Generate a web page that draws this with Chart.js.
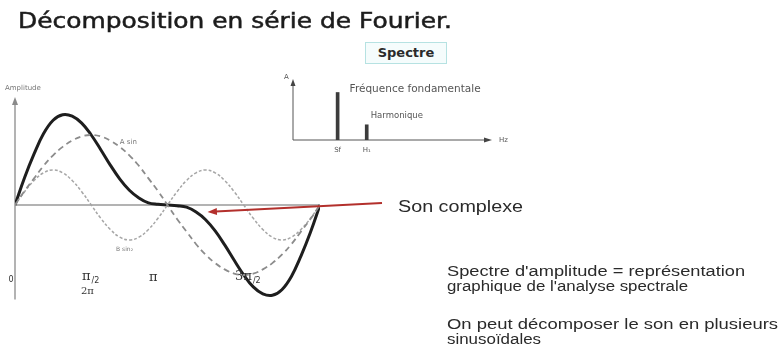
<!DOCTYPE html>
<html lang="fr">
<head>
<meta charset="utf-8">
<title>Décomposition en série de Fourier</title>
<script src="https://cdn.jsdelivr.net/npm/chart.js@4/dist/chart.umd.min.js"></script>
<style>
  html, body { margin: 0; padding: 0; background: #fff; }
  #page { position: relative; width: 780px; height: 358px; overflow: hidden; background: #fff; }
  canvas { position: absolute; left: 0; top: 0; }
  .txt { position: absolute; white-space: nowrap; transform-origin: 0 50%; }
  #titre { left: 18px; top: 9px; font: 21px "DejaVu Sans", sans-serif; color: #1c1c1c;
    -webkit-text-stroke: 0.5px #1c1c1c; }
  #spectreBox { position: absolute; left: 365px; top: 42px; width: 82px; height: 22px;
    border: 1px solid #b6e2e2; background: #f5fcfc; box-sizing: border-box;
    font: bold 13px "DejaVu Sans", sans-serif; color: #2a2a2a; text-align: center; line-height: 20px; }
  .note { font: 14px "Liberation Sans", Arial, sans-serif; color: #2a2a2a; }
</style>
</head>
<body>
<div id="page">
  <canvas id="fourierChart" width="780" height="358"></canvas>
  <canvas id="spectreChart" width="780" height="358"></canvas>
  <div id="titre" class="txt" data-w="434">Décomposition en série de Fourier.</div>
  <div id="spectreBox">Spectre</div>
  <div class="txt note" style="left:398px; top:198px; font-size:16px;" data-w="125">Son complexe</div>
  <div class="txt note" style="left:447px; top:263px;" data-w="298">Spectre d'amplitude = représentation</div>
  <div class="txt note" style="left:447px; top:278px;" data-w="241">graphique de l'analyse spectrale</div>
  <div class="txt note" style="left:447px; top:316px;" data-w="331">On peut décomposer le son en plusieurs</div>
  <div class="txt note" style="left:447px; top:331px;" data-w="94">sinusoïdales</div>
</div>
<script>
// Phase in steps of pi/16 over one period
const phase = [0, 1, 2, 3, 4, 5, 6, 7, 8, 9, 10, 11, 12, 13, 14, 15, 16,
  17, 18, 19, 20, 21, 22, 23, 24, 25, 26, 27, 28, 29, 30, 31, 32];

// Fundamental (dashed)
const fondamentale = [0, 0.2, 0.38, 0.56, 0.71, 0.83, 0.92, 0.98, 1, 0.98, 0.92, 0.83, 0.71, 0.56, 0.38, 0.2, 0,
  -0.2, -0.38, -0.56, -0.71, -0.83, -0.92, -0.98, -1, -0.98, -0.92, -0.83, -0.71, -0.56, -0.38, -0.2, 0];

// Second harmonic (thin grey)
const harmonique = [0, 0.19, 0.35, 0.46, 0.5, 0.46, 0.35, 0.19, 0, -0.19, -0.35, -0.46, -0.5, -0.46, -0.35, -0.19, 0,
  0.19, 0.35, 0.46, 0.5, 0.46, 0.35, 0.19, 0, -0.19, -0.35, -0.46, -0.5, -0.46, -0.35, -0.19, 0];

// Complex sound = sum of both (thick black)
const sonComplexe = [0, 0.39, 0.73, 1.02, 1.21, 1.29, 1.27, 1.17, 1, 0.79, 0.57, 0.37, 0.21, 0.1, 0.03, 0.01, 0,
  -0.01, -0.03, -0.1, -0.21, -0.37, -0.57, -0.79, -1, -1.17, -1.27, -1.29, -1.21, -1.02, -0.73, -0.39, 0];

// Phase axis labels
const phaseTickValues = [0, 8, 14.5, 24.5];
const phaseTickLabels = ["0", "π/2", "π", "3π/2"];

// Spectrum inset
const spectreLabels = ["Sf", "H₁"];
const spectreFreq = [23, 38];
const spectreAmp = [1, 0.32];

function toPoints(xs, ys) {
  return xs.map((x, i) => ({ x: x, y: ys[i] }));
}

// Axes, labels and the red arrow for the main plot
const fourierDecor = {
  id: "fourierDecor",
  beforeDatasetsDraw(chart) {
    const { ctx, scales: { x, y } } = chart;
    const x0 = x.getPixelForValue(0);
    const yBase = y.getPixelForValue(0);
    ctx.save();
    ctx.strokeStyle = "#9a9a9a";
    ctx.lineWidth = 1.5;
    // baseline
    ctx.beginPath();
    ctx.moveTo(x0, yBase);
    ctx.lineTo(x.getPixelForValue(32), yBase);
    ctx.stroke();
    // amplitude axis with arrow
    ctx.beginPath();
    ctx.moveTo(x0, y.getPixelForValue(-1.35));
    ctx.lineTo(x0, y.getPixelForValue(1.5));
    ctx.stroke();
    ctx.fillStyle = "#8a8a8a";
    ctx.beginPath();
    const top = y.getPixelForValue(1.5);
    ctx.moveTo(x0, top - 3);
    ctx.lineTo(x0 - 3, top + 5);
    ctx.lineTo(x0 + 3, top + 5);
    ctx.closePath();
    ctx.fill();
    ctx.restore();
  },
  afterDatasetsDraw(chart) {
    const { ctx, scales: { x, y } } = chart;
    ctx.save();
    ctx.fillStyle = "#777";
    ctx.textBaseline = "middle";
    ctx.font = "7px 'DejaVu Sans', sans-serif";
    ctx.fillText("Amplitude", 5, 88);
    ctx.fillText("A sin", x.getPixelForValue(11), y.getPixelForValue(0.9));
    ctx.font = "6px 'DejaVu Sans', sans-serif";
    ctx.fillText("B sin₂", x.getPixelForValue(10.6), y.getPixelForValue(-0.64));

    // phase ticks
    ctx.fillStyle = "#333";
    ctx.textAlign = "center";
    const ty = y.getPixelForValue(-1.02);
    phaseTickValues.forEach((v, i) => {
      const px = x.getPixelForValue(v);
      const lab = phaseTickLabels[i];
      if (lab === "0") {
        ctx.font = "8px 'DejaVu Sans', sans-serif";
        ctx.fillText(lab, px - 4, ty + 4);
      } else if (lab.indexOf("/") > 0) {
        const [num, den] = lab.split("/");
        ctx.font = "13px 'DejaVu Serif', serif";
        const w = ctx.measureText(num).width;
        ctx.textAlign = "left";
        ctx.fillText(num, px - w / 2 - 5, ty);
        ctx.font = "8px 'DejaVu Sans', sans-serif";
        ctx.fillText("/" + den, px + w / 2 - 4, ty + 5);
        ctx.textAlign = "center";
      } else {
        ctx.font = "13px 'DejaVu Serif', serif";
        ctx.fillText(lab, px, ty + 1);
      }
    });
    ctx.font = "10px 'DejaVu Serif', serif";
    ctx.fillText("2π", x.getPixelForValue(7.6), ty + 15);

    // arrow pointing at the complex sound
    const tipX = x.getPixelForValue(20.2);
    const tipY = y.getPixelForValue(-0.1);
    const tailX = 382, tailY = 203;
    ctx.strokeStyle = "#b3302c";
    ctx.fillStyle = "#b3302c";
    ctx.lineWidth = 2;
    ctx.beginPath();
    ctx.moveTo(tailX, tailY);
    ctx.lineTo(tipX + 8, tipY - 0.4);
    ctx.stroke();
    const ang = Math.atan2(tipY - tailY, tipX - tailX);
    ctx.beginPath();
    ctx.moveTo(tipX, tipY);
    ctx.lineTo(tipX - 10 * Math.cos(ang - 0.35), tipY - 10 * Math.sin(ang - 0.35));
    ctx.lineTo(tipX - 10 * Math.cos(ang + 0.35), tipY - 10 * Math.sin(ang + 0.35));
    ctx.closePath();
    ctx.fill();
    ctx.restore();
  }
};

new Chart(document.getElementById("fourierChart"), {
  type: "line",
  data: {
    datasets: [
      {
        label: "Fondamentale",
        data: toPoints(phase, fondamentale),
        borderColor: "#8c8c8c",
        borderWidth: 1.8,
        borderDash: [6, 4],
        pointRadius: 0,
        tension: 0.4
      },
      {
        label: "Harmonique",
        data: toPoints(phase, harmonique),
        borderColor: "#a6a6a6",
        borderWidth: 1.5,
        borderDash: [3, 2],
        pointRadius: 0,
        tension: 0.4
      },
      {
        label: "Son complexe",
        data: toPoints(phase, sonComplexe),
        borderColor: "#1e1e1e",
        borderWidth: 3,
        pointRadius: 0,
        tension: 0.4
      }
    ]
  },
  options: {
    responsive: false,
    animation: false,
    devicePixelRatio: 1,
    layout: { padding: { left: 15, right: 460, top: 100, bottom: 55 } },
    scales: {
      x: { type: "linear", min: 0, max: 32, display: false },
      y: { type: "linear", min: -1.4, max: 1.5, display: false }
    },
    plugins: { legend: { display: false }, tooltip: { enabled: false } }
  },
  plugins: [fourierDecor]
});

// Axes and captions of the spectrum inset
const spectreDecor = {
  id: "spectreDecor",
  beforeDatasetsDraw(chart) {
    const { ctx, scales: { x, y } } = chart;
    const x0 = x.getPixelForValue(0), y0 = y.getPixelForValue(0);
    const yTop = y.getPixelForValue(1.2), xEnd = x.getPixelForValue(100);
    ctx.save();
    ctx.strokeStyle = "#555";
    ctx.fillStyle = "#444";
    ctx.lineWidth = 1;
    ctx.beginPath();
    ctx.moveTo(x0, y0);
    ctx.lineTo(x0, yTop);
    ctx.moveTo(x0, y0);
    ctx.lineTo(xEnd, y0);
    ctx.stroke();
    ctx.beginPath();
    ctx.moveTo(x0, yTop - 4);
    ctx.lineTo(x0 - 2.5, yTop + 3);
    ctx.lineTo(x0 + 2.5, yTop + 3);
    ctx.closePath();
    ctx.fill();
    ctx.beginPath();
    ctx.moveTo(xEnd + 5, y0);
    ctx.lineTo(xEnd - 3, y0 - 2.5);
    ctx.lineTo(xEnd - 3, y0 + 2.5);
    ctx.closePath();
    ctx.fill();
    ctx.restore();
  },
  afterDatasetsDraw(chart) {
    const { ctx, scales: { x, y } } = chart;
    ctx.save();
    ctx.fillStyle = "#555";
    ctx.textBaseline = "middle";
    ctx.font = "7px 'DejaVu Sans', sans-serif";
    ctx.fillText("A", x.getPixelForValue(0) - 9, y.getPixelForValue(1.2) - 6);
    ctx.fillText("Hz", x.getPixelForValue(100) + 12, y.getPixelForValue(0));
    ctx.textAlign = "center";
    spectreLabels.forEach((lab, i) => {
      ctx.fillText(lab, x.getPixelForValue(spectreFreq[i]), y.getPixelForValue(0) + 10);
    });
    ctx.textAlign = "left";
    ctx.font = "10.5px 'DejaVu Sans', sans-serif";
    ctx.fillText("Fréquence fondamentale", x.getPixelForValue(spectreFreq[0]) + 12, y.getPixelForValue(spectreAmp[0]) - 3);
    ctx.font = "8.5px 'DejaVu Sans', sans-serif";
    ctx.fillText("Harmonique", x.getPixelForValue(spectreFreq[1]) + 4, y.getPixelForValue(spectreAmp[1]) - 9);
    ctx.restore();
  }
};

new Chart(document.getElementById("spectreChart"), {
  type: "bar",
  data: {
    datasets: [{
      label: "Spectre",
      data: toPoints(spectreFreq, spectreAmp),
      backgroundColor: "#3c3c3c",
      barThickness: 3,
      borderWidth: 0
    }]
  },
  options: {
    responsive: false,
    animation: false,
    devicePixelRatio: 1,
    layout: { padding: { left: 293, right: 293, top: 83, bottom: 218 } },
    scales: {
      x: { type: "linear", min: 0, max: 100, offset: false, display: false },
      y: { min: 0, max: 1.2, display: false }
    },
    plugins: { legend: { display: false }, tooltip: { enabled: false } }
  },
  plugins: [spectreDecor]
});

// Stretch the text blocks to their set widths
document.querySelectorAll(".txt[data-w]").forEach(el => {
  const target = parseFloat(el.dataset.w);
  const w = el.getBoundingClientRect().width;
  if (w > 0) el.style.transform = "scaleX(" + (target / w).toFixed(3) + ")";
});
</script>
</body>
</html>
